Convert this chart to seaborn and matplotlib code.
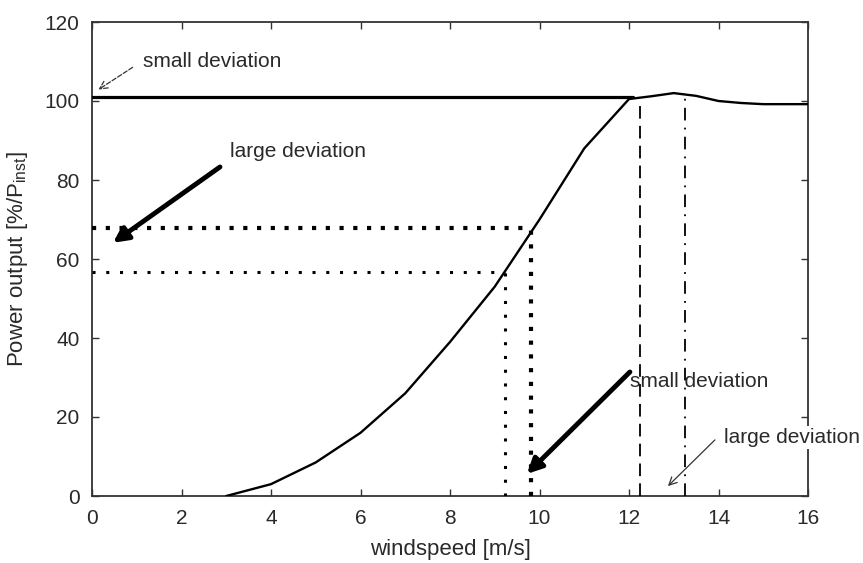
import matplotlib
matplotlib.use("Agg")
import matplotlib.pyplot as plt
import seaborn as sns
import pandas as pd

# ---- data ----
windspeed = [3, 4, 5, 6, 7, 8, 9, 10, 11, 12, 12.5, 13, 13.5, 14, 14.5, 15, 16]
power = [0, 3, 8.5, 16, 26, 39, 53, 70, 88, 100.5, 101.2, 102, 101.3, 100, 99.5, 99.2, 99.2]

rated_level = 101.0          # horizontal line (P_inst)
rated_end = 12.1
dev_large_x, dev_large_y = 9.81, 67.8
dev_small_x, dev_small_y = 9.23, 56.7
cutout_small_x, cutout_small_top = 12.25, 100.5
cutout_large_x, cutout_large_top = 13.25, 101.6

xticks = [0, 2, 4, 6, 8, 10, 12, 14, 16]
yticks = [0, 20, 40, 60, 80, 100, 120]

sns.set_style("ticks")
plt.rcParams["font.family"] = ["Liberation Sans", "DejaVu Sans"]
plt.rcParams["mathtext.fontset"] = "custom"
plt.rcParams["mathtext.rm"] = "Liberation Sans"
plt.rcParams["mathtext.it"] = "Liberation Sans:italic"

TXT = "#2a2a2a"
fig = plt.figure(figsize=(8.63, 5.63), dpi=100)
ax = fig.add_axes([92 / 863, 1 - 496 / 563, (808 - 92) / 863, (496 - 22) / 563])

df = pd.DataFrame({"windspeed": windspeed, "power": power})
sns.lineplot(data=df, x="windspeed", y="power", ax=ax, color="black", lw=1.7, zorder=5)

# rated power line
ax.plot([0, rated_end], [rated_level, rated_level], color="black", lw=2.3, zorder=4)

# dotted deviation lines
ax.plot([0, dev_large_x], [dev_large_y, dev_large_y], color="black", lw=3.0,
        ls=(0, (1, 2.3)), zorder=3)
ax.plot([dev_large_x, dev_large_x], [0, dev_large_y], color="black", lw=3.0,
        ls=(0, (1, 2.3)), zorder=3)
ax.plot([0, dev_small_x], [dev_small_y, dev_small_y], color="black", lw=2.2,
        ls=(0, (1, 3.5)), zorder=3)
ax.plot([dev_small_x, dev_small_x], [0, dev_small_y], color="black", lw=2.2,
        ls=(0, (1, 3.5)), zorder=3)

# cut-out verticals
ax.plot([cutout_small_x, cutout_small_x], [0, cutout_small_top], color="black", lw=1.3,
        ls=(0, (7, 4)), zorder=3)
ax.plot([cutout_large_x, cutout_large_x], [0, cutout_large_top], color="black", lw=1.3,
        ls=(0, (7, 4, 1, 4)), zorder=3)

# annotations
fs = 15
ax.annotate("", xy=(0.09, 102.5), xytext=(0.96, 108.9),
            arrowprops=dict(arrowstyle="->", lw=0.9, ls="--", color="#333333",
                            mutation_scale=14))
ax.text(1.14, 109.9, "small deviation", fontsize=fs, color=TXT, va="center", ha="left")

ax.annotate("", xy=(0.47, 64.1), xytext=(2.86, 83.3),
            arrowprops=dict(arrowstyle="-|>", lw=3.5, color="black",
                            mutation_scale=22, shrinkA=0, shrinkB=0))
ax.text(3.08, 87.1, "large deviation", fontsize=fs, color=TXT, va="center", ha="left")

ax.text(12.02, 29.1, "small deviation", fontsize=fs, color=TXT, va="center", ha="left",
        zorder=2, bbox=dict(facecolor="white", edgecolor="none", pad=0.5))
ax.annotate("", xy=(9.72, 5.6), xytext=(12.02, 31.4),
            arrowprops=dict(arrowstyle="-|>", lw=3.5, color="black",
                            mutation_scale=22, shrinkA=0, shrinkB=0), zorder=6)

ax.text(14.12, 14.9, "large deviation", fontsize=fs, color=TXT, va="center", ha="left",
        zorder=10, clip_on=False,
        bbox=dict(facecolor="white", edgecolor="none", pad=1.5))
ax.annotate("", xy=(12.87, 2.5), xytext=(13.92, 14.2),
            arrowprops=dict(arrowstyle="->", lw=0.9, color="#333333",
                            mutation_scale=14, shrinkA=0, shrinkB=0))

ax.set_xlim(0, 16)
ax.set_ylim(0, 120)
ax.set_xticks(xticks)
ax.set_yticks(yticks)
ax.tick_params(direction="in", length=5, width=1, top=True, right=True,
               labelsize=fs, colors="#333333", labelcolor=TXT, pad=9)
for s in ax.spines.values():
    s.set_linewidth(1.3)
    s.set_color("#333333")

ax.set_xlabel("windspeed [m/s]", fontsize=16, color=TXT, labelpad=8)
ax.set_ylabel("Power output [%/P$_{\\mathrm{inst}}$]", fontsize=16, color=TXT, labelpad=10)

fig.savefig("out.png", dpi=100)
